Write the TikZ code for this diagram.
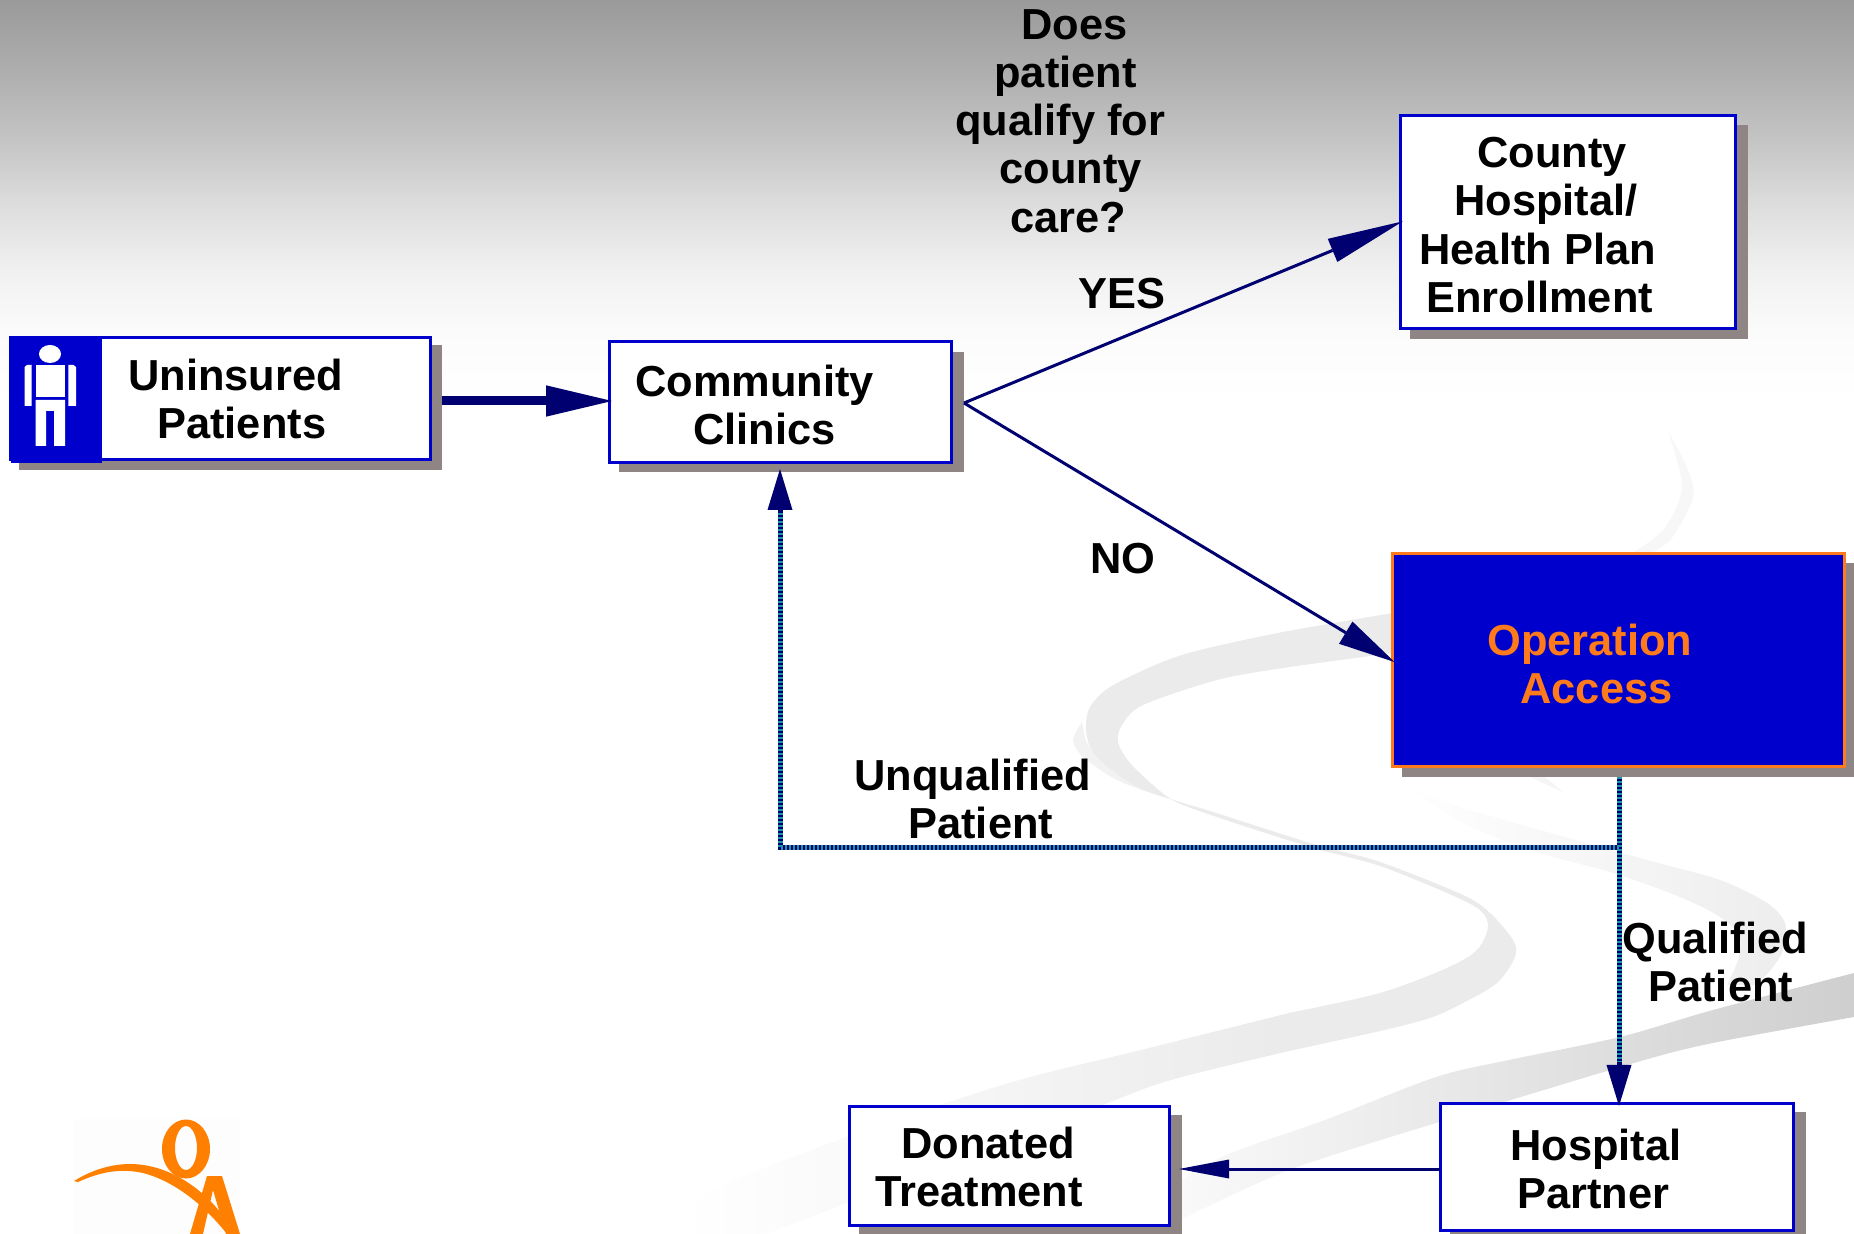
\documentclass[tikz,border=0pt]{standalone}
\usepackage{fontspec}
\setmainfont{Liberation Sans}
\usetikzlibrary{arrows.meta}
\definecolor{boxblue}{HTML}{0000CC}
\definecolor{navy}{HTML}{000070}
\definecolor{shad}{HTML}{908585}
\definecolor{oaorange}{HTML}{FF7F00}
\definecolor{optext}{HTML}{FF7A1A}
\definecolor{teal1}{HTML}{1E96A8}
\pgfdeclareverticalshading{bggrad}{100bp}{
  color(0bp)=(white); color(27.4bp)=(white); color(35.4bp)=(black!1.5); color(43.2bp)=(black!6); color(51.2bp)=(black!14); color(58.3bp)=(black!23); color(66.7bp)=(black!32); color(75bp)=(black!39.6); color(100bp)=(black!39.6)}
\tikzset{
  x=0.5pt,y=-0.5pt,
  flowbox/.style={draw=boxblue,line width=1.5pt,fill=white,inner sep=0pt,outer sep=0pt,anchor=north west},
  txt/.style={anchor=west,align=left,inner sep=0pt,font=\fontsize{21.7}{24.1}\selectfont\bfseries,text=black},
  thinline/.style={draw=navy,line width=1.5pt,shorten >=-1.5pt},
  fatline/.style={draw=navy,line width=4.5pt,shorten >=-1.5pt},
  bigtip/.style={-{Triangle[length=33pt,width=15.7pt,line width=0pt,fill=navy]}},
  yestip/.style={-{Triangle[length=38pt,width=12.5pt,line width=0pt,fill=navy]}},
  notip/.style={-{Triangle[length=28.5pt,width=13pt,line width=0pt,fill=navy]}},
  smalltip/.style={-{Triangle[length=25pt,width=9.5pt,line width=0pt,fill=navy]}},
  vtip/.style={-{Triangle[length=20.5pt,width=12.5pt,line width=0pt,fill=navy]}},
  dotbase/.style={draw=navy,line width=2.5pt,shorten >=-1.5pt},
  dottop/.style={draw=teal1,line width=2.5pt,dash pattern=on 1pt off 1pt},
}
\begin{document}
\begin{tikzpicture}
\useasboundingbox (0,0) rectangle (1854,1234);
\fill[white] (0,0) rectangle (1854,1234);
\shade[shading=bggrad] (0,0) rectangle (1854,420);
% ribbons
\fill[black!3] plot[smooth] coordinates {(1668,431) (1688,470) (1693,498) (1671,539) (1649,554)} -- plot[smooth] coordinates {(1631,554) (1664,529) (1682,487) (1668,431)} -- cycle;
\fill[black!5] plot[smooth] coordinates {(1082,722) (1073,740) (1083,757) (1117,780) (1163,797) (1217,813) (1317,847)} -- plot[smooth] coordinates {(1183,803) (1137,787) (1103,763) (1087,743) (1082,722)} -- cycle;
\fill[black!8] plot[smooth] coordinates {(1393,613) (1283,632) (1200,650) (1160,663) (1110,687) (1090,707) (1086,727) (1090,747) (1103,763) (1137,787) (1183,803) (1250,824) (1317,845) (1380,862) (1463,895) (1490,913) (1513,940) (1515,957) (1497,983) (1463,1003) (1430,1018) (1380,1031) (1289,1051)} -- plot[smooth] coordinates {(1289,1013) (1380,993) (1447,968) (1477,950) (1488,927) (1480,910) (1447,893) (1380,866) (1317,849) (1250,828) (1183,805) (1160,791) (1130,763) (1118,742) (1122,725) (1143,705) (1217,680) (1283,668) (1393,653)} -- cycle;
\shade[left color=white,right color=black!8] plot[smooth] coordinates {(1289,1013) (1141,1050) (1009,1083) (847,1137) (715,1190) (680,1234)} -- (766,1234) -- plot[smooth] coordinates {(847,1203) (1097,1107) (1171,1080) (1289,1051)} -- cycle;
\shade[left color=white,right color=black!7] plot[smooth] coordinates {(1397,780) (1447,803) (1547,832) (1647,860) (1720,880) (1767,903) (1785,923) (1783,950) (1773,967) (1757,985)} -- plot[smooth] coordinates {(1727,985) (1738,960) (1740,937) (1720,917) (1680,897) (1613,873) (1530,850) (1463,823) (1397,780)} -- cycle;
\fill[black!4] (1530,777) -- (1563,792) -- (1545,777) -- cycle;
\shade[left color=white,right color=black!19] plot[smooth] coordinates {(1854,973) (1713,1010) (1620,1037) (1509,1060) (1436,1077) (1325,1120) (1222,1157) (1150,1200)} -- (1090,1234) -- (1160,1234) -- plot[smooth] coordinates {(1186,1217) (1289,1170) (1436,1123) (1634,1063) (1713,1043) (1854,1017)} -- cycle;
% logo
\fill[black!0.7] (74,1119) rectangle (240,1234);
\fill[oaorange,even odd rule] (186,1149) ellipse [x radius=24,y radius=29.5] (186,1148) ellipse [x radius=11,y radius=22];
\fill[oaorange] (207,1176) -- (222,1176) -- (240,1234) -- (226,1234) -- (213,1190) -- (203,1234) -- (190,1234) -- cycle;
\fill[oaorange] (74,1181) .. controls (95,1168) and (115,1164) .. (130,1164) .. controls (165,1164) and (205,1185) .. (233,1230) -- (227,1234) .. controls (200,1200) and (170,1180) .. (143,1173) .. controls (120,1168) and (100,1172) .. (78,1182) -- cycle;
% shadows
\fill[shad] (19,345) rectangle (442,470);
\fill[shad] (619,352) rectangle (964,472);
\fill[shad] (1410,125) rectangle (1748,339);
\fill[shad] (1402,563) rectangle (1854,777);
\fill[shad] (859,1115) rectangle (1182,1234);
\fill[shad] (1450,1112) rectangle (1806,1234);
% boxes
\node[flowbox,minimum width=210pt,minimum height=61pt] (uninsured) at (10,338) {};
\fill[boxblue] (10.5,337) rectangle (102,463);
\fill[white] (50,354) ellipse [x radius=11,y radius=9];
\fill[white] (35.6,365) rectangle (65,397);
\fill[white] (24.5,367) -- (27,365) -- (31.6,365) -- (31.6,406) -- (24.5,406) -- cycle;
\fill[white] (68.4,365) -- (73.5,365) -- (76,367) -- (76,406) -- (68.4,406) -- cycle;
\fill[white] (35.6,400) -- (65,400) -- (65,446) -- (54,446) -- (54,411) -- (46,411) -- (46,446) -- (35.6,446) -- cycle;
\node[flowbox,minimum width=171pt,minimum height=60.5pt] (community) at (609,342) {};
\node[flowbox,minimum width=167.5pt,minimum height=106.5pt] (county) at (1400,116) {};
\node[flowbox,draw=optext,fill=boxblue,minimum width=226pt,minimum height=106.5pt] (opaccess) at (1392,554) {};
\node[flowbox,minimum width=160pt,minimum height=59.5pt] (donated) at (849,1106) {};
\node[flowbox,minimum width=176.5pt,minimum height=63.5pt] (hospital) at (1440,1103) {};
% connectors
\coordinate (fork) at (964,403);
\coordinate (uninsuredout) at (442,401);
\coordinate (join) at (1619,848);
\coordinate (opout) at (1619,777);
\coordinate (corner) at (780,848);
\coordinate (clinicin) at (780,472);
\coordinate (hospin) at (1619,1103);
\coordinate (hospout) at (1440,1169);
\coordinate (donin) at (1182,1169);
\draw[fatline,bigtip] (uninsuredout) -- (community.west |- uninsuredout);
\draw[thinline,yestip] (fork) -- (county.west);
\draw[thinline,notip] (fork) -- (opaccess.west);
\draw[thinline,smalltip] (hospout) -- (donin);
\draw[dotbase,vtip] (join) -- (corner) -- (clinicin);
\draw[dotbase,vtip] (opout) -- (hospin);
\draw[dottop] (join) -- (corner) -- (780,512);
\draw[dottop] (opout) -- (1619,1062);
% texts
\node[txt] (tqual) at (955,121) {\hspace*{33pt}Does\\\hspace*{19.5pt}patient\\qualify for\\\hspace*{22pt}county\\\hspace*{27.5pt}care?};
\node[txt] (tcounty) at (1419,225) {\hspace*{29pt}County\\\hspace*{17.5pt}Hospital/\\Health Plan\\\hspace*{3.5pt}Enrollment};
\node[txt] (tcomm) at (635,405) {Community\\\hspace*{29pt}Clinics};
\node[txt] (tunins) at (128,399) {Uninsured\\\hspace*{14.5pt}Patients};
\node[txt] (tyes) at (1078,294) {YES};
\node[txt] (tno) at (1090,559) {NO};
\node[txt,text=optext] (top) at (1487,664) {Operation\\\hspace*{16.5pt}Access};
\node[txt] (tunq) at (854,799) {Unqualified\\\hspace*{27pt}Patient};
\node[txt] (tqu) at (1622,962) {Qualified\\\hspace*{13pt}Patient};
\node[txt] (tdon) at (875,1167) {\hspace*{13pt}Donated\\Treatment};
\node[txt] (thos) at (1510,1169) {Hospital\\\hspace*{3.5pt}Partner};
\end{tikzpicture}
\end{document}
